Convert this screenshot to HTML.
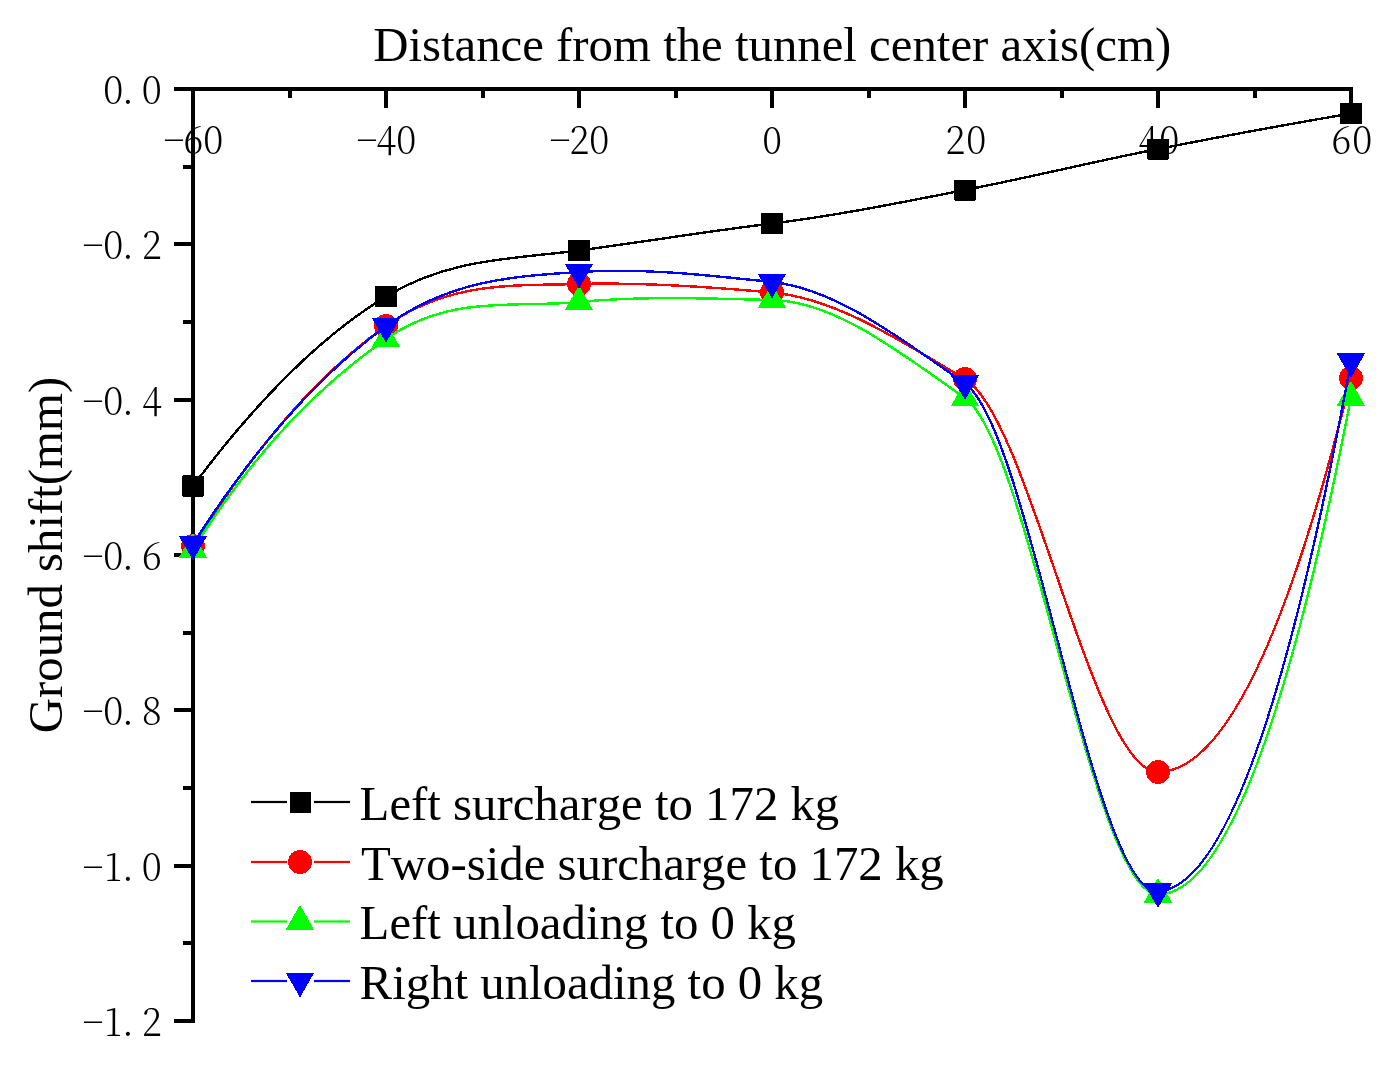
<!DOCTYPE html>
<html><head><meta charset="utf-8"><title>Ground shift chart</title>
<style>
html,body{margin:0;padding:0;background:#fff;}
body{width:1394px;height:1070px;overflow:hidden;}
svg{display:block;}
.tk{font-family:"Noto Serif CJK SC","Liberation Serif",serif;font-weight:300;font-size:36.5px;fill:#000;}
.tt{font-family:"Liberation Serif","Noto Serif CJK SC",serif;font-size:48.8px;fill:#000;font-kerning:none;}
</style></head><body>
<svg width="1394" height="1070" viewBox="0 0 1394 1070">
<rect width="1394" height="1070" fill="#fff"/>

<g fill="#000" shape-rendering="crispEdges">
<rect x="191" y="87" width="1162" height="4"/>
<rect x="191" y="87" width="4" height="936"/>
<rect x="191.0" y="89" width="4" height="19"/>
<rect x="287.5" y="89" width="4" height="9"/>
<rect x="384.0" y="89" width="4" height="19"/>
<rect x="480.5" y="89" width="4" height="9"/>
<rect x="577.0" y="89" width="4" height="19"/>
<rect x="673.5" y="89" width="4" height="9"/>
<rect x="770.0" y="89" width="4" height="19"/>
<rect x="866.5" y="89" width="4" height="9"/>
<rect x="963.0" y="89" width="4" height="19"/>
<rect x="1059.5" y="89" width="4" height="9"/>
<rect x="1156.0" y="89" width="4" height="19"/>
<rect x="1252.5" y="89" width="4" height="9"/>
<rect x="1349.0" y="89" width="4" height="19"/>
<rect x="174" y="87.0" width="19" height="4"/>
<rect x="183" y="164.7" width="10" height="4"/>
<rect x="174" y="242.3" width="19" height="4"/>
<rect x="183" y="320.0" width="10" height="4"/>
<rect x="174" y="397.7" width="19" height="4"/>
<rect x="183" y="475.3" width="10" height="4"/>
<rect x="174" y="553.0" width="19" height="4"/>
<rect x="183" y="630.7" width="10" height="4"/>
<rect x="174" y="708.3" width="19" height="4"/>
<rect x="183" y="786.0" width="10" height="4"/>
<rect x="174" y="863.7" width="19" height="4"/>
<rect x="183" y="941.3" width="10" height="4"/>
<rect x="174" y="1019.0" width="19" height="4"/>
</g>
<g transform="scale(1,1.057)">
<text class="tk" text-anchor="middle" x="113.2 127.9 151.9" y="98.58">0.0</text>
<text class="tk" text-anchor="middle" x="93 113.2 127.9 151.9" y="245.51">−0.2</text>
<text class="tk" text-anchor="middle" x="93 113.2 127.9 151.9" y="392.53">−0.4</text>
<text class="tk" text-anchor="middle" x="93 113.2 127.9 151.9" y="539.45">−0.6</text>
<text class="tk" text-anchor="middle" x="93 113.2 127.9 151.9" y="686.38">−0.8</text>
<text class="tk" text-anchor="middle" x="93 113.2 127.9 151.9" y="833.40">−1.0</text>
<text class="tk" text-anchor="middle" x="93 113.2 127.9 151.9" y="980.32">−1.2</text>
<text class="tk" text-anchor="middle" x="174.0 193.2 213.2" y="145.51">−60</text>
<text class="tk" text-anchor="middle" x="367.0 386.2 406.2" y="145.51">−40</text>
<text class="tk" text-anchor="middle" x="560.0 579.2 599.2" y="145.51">−20</text>
<text class="tk" text-anchor="middle" x="772.1" y="145.51">0</text>
<text class="tk" text-anchor="middle" x="955.3 976.3" y="145.51">20</text>
<text class="tk" text-anchor="middle" x="1148.3 1169.3" y="145.51">40</text>
<text class="tk" text-anchor="middle" x="1341.3 1362.3" y="145.51">60</text>
</g>
<text class="tt" x="772.2" y="60.6" text-anchor="middle">Distance from the tunnel center axis(cm)</text>
<text class="tt" transform="translate(62,555) rotate(-90)" text-anchor="middle">Ground shift(mm)</text>
<path d="M193,486 C257.3,399.85 321.7,335.47 386,296.5 C450.3,257.53 514.7,259.05 579,250.5 C643.3,241.95 707.7,231.28 772,223.5 C836.3,215.72 900.7,202.52 965,190 C1029.3,177.48 1093.7,161.61 1158,149 C1222.3,136.39 1286.7,124.42 1351,113.5" fill="none" stroke="#000" stroke-width="2.4" shape-rendering="crispEdges"/>
<rect x="182" y="475.5" width="22" height="21" rx="1" fill="#000" shape-rendering="crispEdges"/>
<rect x="375" y="286.0" width="22" height="21" rx="1" fill="#000" shape-rendering="crispEdges"/>
<rect x="568" y="240.0" width="22" height="21" rx="1" fill="#000" shape-rendering="crispEdges"/>
<rect x="761" y="213.0" width="22" height="21" rx="1" fill="#000" shape-rendering="crispEdges"/>
<rect x="954" y="179.5" width="22" height="21" rx="1" fill="#000" shape-rendering="crispEdges"/>
<rect x="1147" y="138.5" width="22" height="21" rx="1" fill="#000" shape-rendering="crispEdges"/>
<rect x="1340" y="103.0" width="22" height="21" rx="1" fill="#000" shape-rendering="crispEdges"/>
<path d="M193,546 C257.3,443.00 321.7,371.55 386,326 C450.3,280.45 514.7,285.94 579,284 C643.3,282.06 707.7,286.67 772,292.5 C836.3,298.33 900.7,340.95 965,379 C1029.3,417.05 1093.7,772.17 1158,772 C1222.3,771.83 1286.7,640.50 1351,378" fill="none" stroke="#f00" stroke-width="2.4" shape-rendering="crispEdges"/>
<circle cx="193" cy="546" r="12" fill="#f00" shape-rendering="crispEdges"/>
<circle cx="386" cy="326" r="12" fill="#f00" shape-rendering="crispEdges"/>
<circle cx="579" cy="284" r="12" fill="#f00" shape-rendering="crispEdges"/>
<circle cx="772" cy="292.5" r="12" fill="#f00" shape-rendering="crispEdges"/>
<circle cx="965" cy="379" r="12" fill="#f00" shape-rendering="crispEdges"/>
<circle cx="1158" cy="772" r="12" fill="#f00" shape-rendering="crispEdges"/>
<circle cx="1351" cy="378" r="12" fill="#f00" shape-rendering="crispEdges"/>
<path d="M193,549.5 C257.3,446.77 321.7,384.10 386,339 C450.3,293.90 514.7,308.27 579,302 C643.3,295.73 707.7,298.51 772,300 C836.3,301.49 900.7,353.19 965,398 C1029.3,442.81 1093.7,894.58 1158,894.5 C1222.3,894.42 1286.7,728.75 1351,397.5" fill="none" stroke="#0f0" stroke-width="2.4" shape-rendering="crispEdges"/>
<polygon points="178.7,557.9 207.3,557.9 193,532.9" fill="#0f0" shape-rendering="crispEdges"/>
<polygon points="371.7,347.4 400.3,347.4 386,322.4" fill="#0f0" shape-rendering="crispEdges"/>
<polygon points="564.7,310.4 593.3,310.4 579,285.4" fill="#0f0" shape-rendering="crispEdges"/>
<polygon points="757.7,308.4 786.3,308.4 772,283.4" fill="#0f0" shape-rendering="crispEdges"/>
<polygon points="950.7,406.4 979.3,406.4 965,381.4" fill="#0f0" shape-rendering="crispEdges"/>
<polygon points="1143.7,902.9 1172.3,902.9 1158,877.9" fill="#0f0" shape-rendering="crispEdges"/>
<polygon points="1336.7,405.9 1365.3,405.9 1351,380.9" fill="#0f0" shape-rendering="crispEdges"/>
<path d="M193,544 C257.3,443.49 321.7,372.97 386,326.2 C450.3,279.43 514.7,276.36 579,272 C643.3,267.64 707.7,275.29 772,282 C836.3,288.71 900.7,338.69 965,383.5 C1029.3,428.31 1093.7,895.17 1158,891.5 C1222.3,887.83 1286.7,711.16 1351,361.5" fill="none" stroke="#00f" stroke-width="2.4" shape-rendering="crispEdges"/>
<polygon points="178.7,535.6 207.3,535.6 193,560.6" fill="#00f" shape-rendering="crispEdges"/>
<polygon points="371.7,317.8 400.3,317.8 386,342.8" fill="#00f" shape-rendering="crispEdges"/>
<polygon points="564.7,263.6 593.3,263.6 579,288.6" fill="#00f" shape-rendering="crispEdges"/>
<polygon points="757.7,273.6 786.3,273.6 772,298.6" fill="#00f" shape-rendering="crispEdges"/>
<polygon points="950.7,375.1 979.3,375.1 965,400.1" fill="#00f" shape-rendering="crispEdges"/>
<polygon points="1143.7,883.1 1172.3,883.1 1158,908.1" fill="#00f" shape-rendering="crispEdges"/>
<polygon points="1336.7,353.1 1365.3,353.1 1351,378.1" fill="#00f" shape-rendering="crispEdges"/>
<rect x="251" y="800.9" width="36" height="2.2" fill="#000"/><rect x="314" y="800.9" width="36" height="2.2" fill="#000"/>
<rect x="290" y="792" width="21" height="21" rx="1" fill="#000" shape-rendering="crispEdges"/>
<text class="tt" x="359.6" y="819.5">Left surcharge to 172 kg</text>
<rect x="251" y="860.9" width="36" height="2.2" fill="#f00"/><rect x="314" y="860.9" width="36" height="2.2" fill="#f00"/>
<circle cx="300" cy="862" r="12" fill="#f00" shape-rendering="crispEdges"/>
<text class="tt" x="361.0" y="879.5">Two-side surcharge to 172 kg</text>
<rect x="251" y="920.4" width="36" height="2.2" fill="#0f0"/><rect x="314" y="920.4" width="36" height="2.2" fill="#0f0"/>
<polygon points="285.7,929.9 314.3,929.9 300,904.9" fill="#0f0" shape-rendering="crispEdges"/>
<text class="tt" x="359.6" y="939.0">Left unloading to 0 kg</text>
<rect x="251" y="979.9" width="36" height="2.2" fill="#00f"/><rect x="314" y="979.9" width="36" height="2.2" fill="#00f"/>
<polygon points="285.7,972.6 314.3,972.6 300,997.6" fill="#00f" shape-rendering="crispEdges"/>
<text class="tt" x="359.6" y="998.5">Right unloading to 0 kg</text>
</svg></body></html>
